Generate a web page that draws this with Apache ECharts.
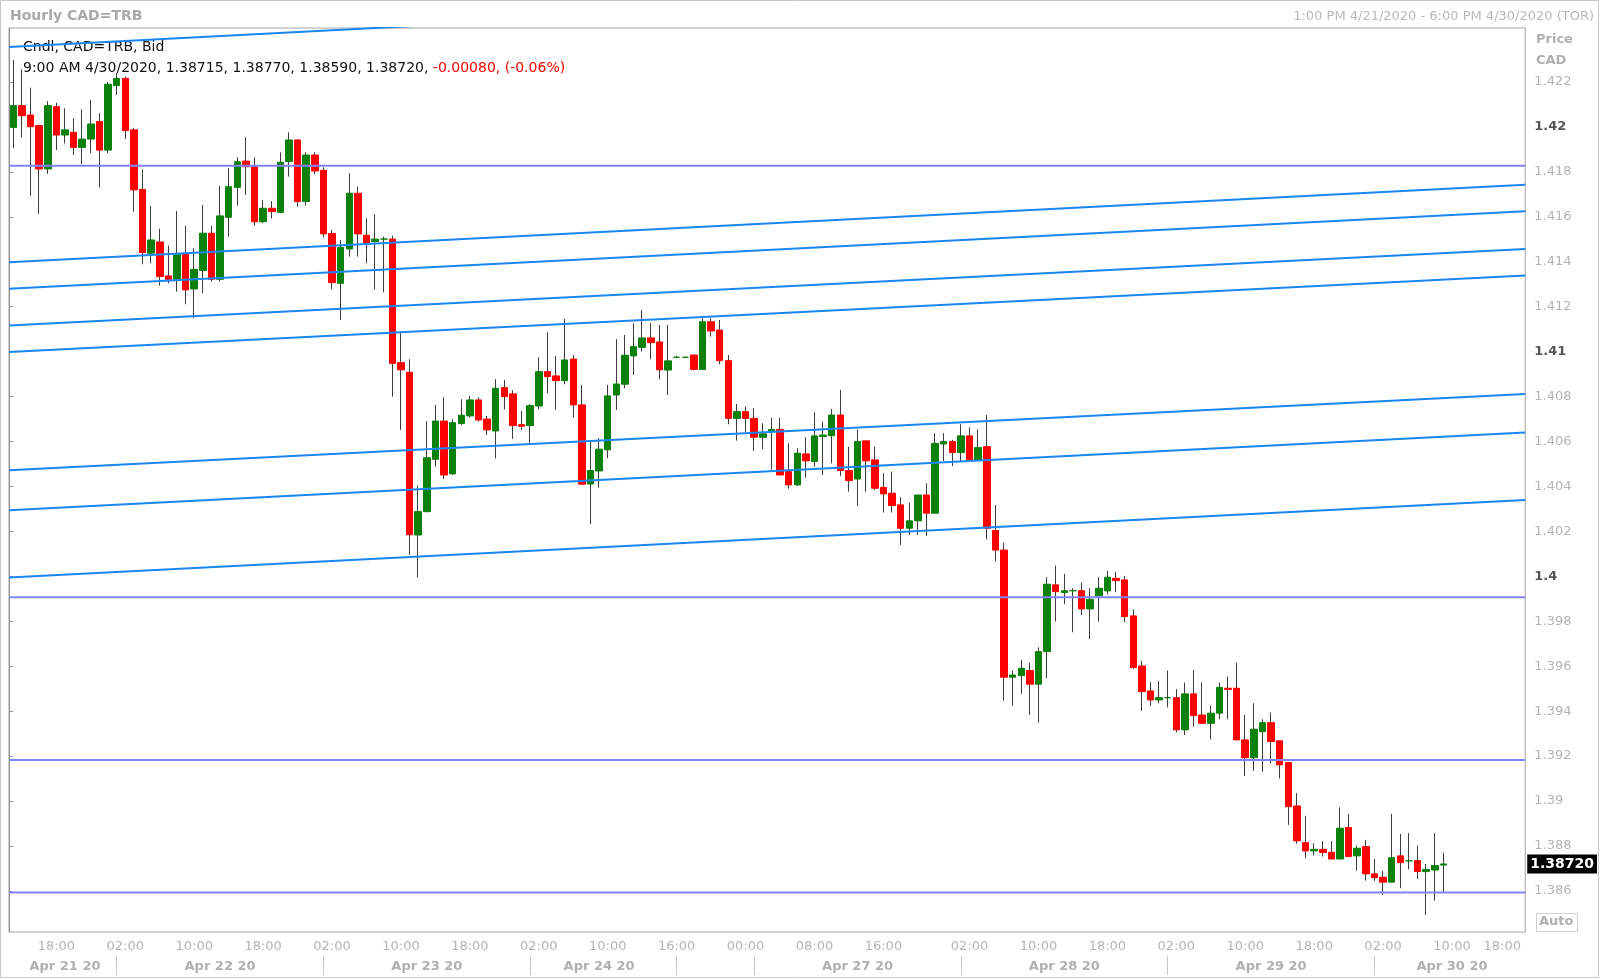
<!DOCTYPE html>
<html><head><meta charset="utf-8">
<script src="https://cdn.jsdelivr.net/npm/echarts@6/dist/echarts.min.js"></script>
<style>html,body{margin:0;padding:0;background:#fff}#c{width:1600px;height:979px}</style>
</head><body><div id="c"></div>
<script>
// ---- data (hourly candles, CAD=TRB, Bid) ----
const opens = [1.41998,1.42095,1.42053,1.42006,1.41813,1.42090,1.41964,1.41976,1.41909,1.41946,1.42024,1.41897,1.42184,1.42216,1.41987,1.41722,1.41438,1.41488,1.41337,1.41322,1.41433,1.41279,1.41361,1.41527,1.41322,1.41598,1.41731,1.41848,1.41823,1.41578,1.41638,1.41620,1.41846,1.41942,1.41668,1.41875,1.41807,1.41526,1.41304,1.41457,1.41705,1.41518,1.41490,1.41501,1.41501,1.40951,1.40908,1.40184,1.40288,1.40521,1.40691,1.40456,1.40680,1.40714,1.40785,1.40700,1.40647,1.40840,1.40812,1.40675,1.40671,1.40758,1.40911,1.40892,1.40871,1.40967,1.40763,1.40411,1.40469,1.40563,1.40807,1.40855,1.40981,1.41019,1.41061,1.41043,1.40918,1.40975,1.40975,1.40985,1.40921,1.41133,1.41096,1.40960,1.40703,1.40733,1.40703,1.40619,1.40644,1.40654,1.40466,1.40407,1.40545,1.40511,1.40622,1.40626,1.40718,1.40471,1.40433,1.40603,1.40518,1.40396,1.40370,1.40318,1.40214,1.40247,1.40362,1.40281,1.40589,1.40600,1.40551,1.40625,1.40518,1.40577,1.40204,1.40117,1.39551,1.39558,1.39581,1.39520,1.39665,1.39962,1.39928,1.39936,1.39936,1.39855,1.39913,1.39935,1.39991,1.39984,1.39824,1.39601,1.39490,1.39450,1.39460,1.39460,1.39317,1.39477,1.39383,1.39346,1.39391,1.39502,1.39502,1.39272,1.39193,1.39309,1.39349,1.39268,1.39171,1.38978,1.38815,1.38778,1.38785,1.38772,1.38742,1.38882,1.38756,1.38797,1.38676,1.38661,1.38639,1.38756,1.38734,1.38735,1.38686,1.38693,1.38715];
const highs = [1.42298,1.42256,1.42175,1.42010,1.42115,1.42108,1.42083,1.42038,1.42078,1.42120,1.42061,1.42200,1.42239,1.42225,1.41995,1.41811,1.41648,1.41547,1.41472,1.41626,1.41561,1.41460,1.41653,1.41561,1.41737,1.41816,1.41865,1.41954,1.41865,1.41675,1.41670,1.41887,1.41976,1.41945,1.41887,1.41887,1.41820,1.41541,1.41497,1.41794,1.41734,1.41593,1.41611,1.41512,1.41516,1.41082,1.40966,1.40404,1.40691,1.40763,1.40797,1.40700,1.40788,1.40803,1.40797,1.40714,1.40877,1.40874,1.40828,1.40736,1.40766,1.40975,1.41086,1.40981,1.41145,1.40985,1.40852,1.40600,1.40615,1.40852,1.41055,1.41074,1.41126,1.41185,1.41126,1.41119,1.41119,1.40982,1.40978,1.40985,1.41148,1.41148,1.41141,1.40985,1.40767,1.40755,1.40748,1.40681,1.40706,1.40706,1.40592,1.40570,1.40619,1.40730,1.40689,1.40745,1.40829,1.40577,1.40654,1.40603,1.40577,1.40459,1.40466,1.40352,1.40328,1.40362,1.40414,1.40637,1.40637,1.40607,1.40677,1.40663,1.40654,1.40718,1.40318,1.40150,1.39581,1.39628,1.39616,1.39684,1.39996,1.40048,1.40011,1.39947,1.39972,1.39947,1.39996,1.40024,1.40021,1.40002,1.39853,1.39624,1.39529,1.39535,1.39581,1.39498,1.39527,1.39583,1.39527,1.39425,1.39527,1.39554,1.39616,1.39383,1.39435,1.39364,1.39394,1.39268,1.39171,1.39035,1.38934,1.38812,1.38822,1.38822,1.38972,1.38943,1.38802,1.38827,1.38742,1.38689,1.38943,1.38854,1.38857,1.38802,1.38720,1.38857,1.38770];
const lows = [1.41905,1.41954,1.41694,1.41613,1.41791,1.41897,1.41927,1.41875,1.41834,1.41883,1.41731,1.41883,1.42142,1.41946,1.41623,1.41389,1.41393,1.41294,1.41304,1.41267,1.41211,1.41149,1.41260,1.41312,1.41312,1.41512,1.41650,1.41697,1.41561,1.41571,1.41593,1.41616,1.41779,1.41645,1.41650,1.41789,1.41507,1.41277,1.41141,1.41423,1.41423,1.41393,1.41277,1.41264,1.40800,1.40652,1.40096,1.39995,1.40285,1.40488,1.40433,1.40451,1.40674,1.40706,1.40689,1.40629,1.40525,1.40743,1.40612,1.40652,1.40592,1.40744,1.40815,1.40741,1.40855,1.40706,1.40410,1.40232,1.40395,1.40526,1.40741,1.40837,1.40896,1.41000,1.40966,1.40877,1.40807,1.40975,1.40972,1.40916,1.40918,1.41067,1.40944,1.40677,1.40604,1.40640,1.40558,1.40566,1.40474,1.40451,1.40390,1.40402,1.40439,1.40488,1.40451,1.40503,1.40447,1.40377,1.40313,1.40377,1.40384,1.40284,1.40284,1.40140,1.40184,1.40184,1.40180,1.40281,1.40513,1.40491,1.40513,1.40513,1.40518,1.40165,1.40066,1.39447,1.39424,1.39477,1.39383,1.39349,1.39547,1.39799,1.39876,1.39751,1.39828,1.39721,1.39799,1.39920,1.39929,1.39796,1.39588,1.39401,1.39423,1.39435,1.39417,1.39306,1.39294,1.39331,1.39343,1.39275,1.39364,1.39364,1.39272,1.39112,1.39134,1.39131,1.39168,1.39101,1.38894,1.38810,1.38745,1.38757,1.38753,1.38742,1.38742,1.38753,1.38690,1.38646,1.38645,1.38582,1.38639,1.38612,1.38696,1.38653,1.38493,1.38557,1.38590];
const closes = [1.42095,1.42050,1.42001,1.41813,1.42095,1.41964,1.41987,1.41909,1.41946,1.42013,1.41897,1.42190,1.42216,1.41984,1.41720,1.41441,1.41497,1.41334,1.41322,1.41433,1.41275,1.41366,1.41527,1.41322,1.41604,1.41734,1.41845,1.41823,1.41578,1.41638,1.41623,1.41843,1.41942,1.41668,1.41875,1.41804,1.41524,1.41307,1.41464,1.41705,1.41524,1.41485,1.41501,1.41501,1.40948,1.40919,1.40185,1.40288,1.40528,1.40691,1.40451,1.40684,1.40717,1.40785,1.40696,1.40652,1.40837,1.40800,1.40671,1.40668,1.40760,1.40911,1.40889,1.40871,1.40963,1.40763,1.40410,1.40471,1.40566,1.40803,1.40856,1.40984,1.41022,1.41061,1.41040,1.40919,1.40959,1.40975,1.40975,1.40921,1.41133,1.41092,1.40960,1.40703,1.40733,1.40703,1.40619,1.40634,1.40654,1.40451,1.40407,1.40548,1.40514,1.40625,1.40629,1.40718,1.40471,1.40426,1.40600,1.40514,1.40392,1.40367,1.40315,1.40214,1.40247,1.40362,1.40281,1.40592,1.40600,1.40551,1.40625,1.40518,1.40573,1.40214,1.40117,1.39551,1.39561,1.39591,1.39520,1.39665,1.39965,1.39932,1.39936,1.39936,1.39855,1.39898,1.39947,1.39996,1.39981,1.39821,1.39594,1.39487,1.39450,1.39460,1.39460,1.39317,1.39477,1.39380,1.39346,1.39391,1.39506,1.39497,1.39272,1.39193,1.39320,1.39349,1.39265,1.39161,1.38975,1.38823,1.38778,1.38785,1.38771,1.38742,1.38879,1.38753,1.38790,1.38676,1.38659,1.38639,1.38748,1.38726,1.38734,1.38686,1.38696,1.38713,1.38720];

// trading sessions (hourly slots); the axis continues to 18:00 Apr 30
const sessions = [['2020-04-21T13:00Z', 76], ['2020-04-26T15:00Z', 100]];

// x tick labels (category index -> text)
const xTickIndex  = [5,13,21,29,37,45,53,61,69,77,85,93,101,111,119,127,135,143,151,159,167,175];
const xTickLabels = ['18:00','02:00','10:00','18:00','02:00','10:00','18:00','02:00','10:00','16:00','00:00','08:00','16:00','02:00','10:00','18:00','02:00','10:00','18:00','02:00','10:00','18:00'];
const dateIndex  = [6,24,48,68,98,122,146,167];
const dateLabels = ['Apr 21 20','Apr 22 20','Apr 23 20','Apr 24 20','Apr 27 20','Apr 28 20','Apr 29 20','Apr 30 20'];
const dateSepIndex = [12,36,60,77,86,110,134,158];

// y tick labels
const yTickValues = [1.386,1.388,1.39,1.392,1.394,1.396,1.398,1.4,1.402,1.404,1.406,1.408,1.41,1.412,1.414,1.416,1.418,1.42,1.422];
const yTickLabels = ['1.386','1.388','1.39','1.392','1.394','1.396','1.398','1.4','1.402','1.404','1.406','1.408','1.41','1.412','1.414','1.416','1.418','1.42','1.422'];
const yBoldLabels = ['1.4','1.41','1.42'];

// drawn lines: sloped channel lines (price at left edge, price at right edge)
const trendLeft  = [1.42356,1.41398,1.41280,1.41116,1.40998,1.40472,1.40294,1.39995];
const trendRight = [1.42705,1.41743,1.41625,1.41457,1.41339,1.40812,1.40640,1.40340];
// horizontal levels
const levels = [1.41827,1.39907,1.39183,1.38593];

const yMin = 1.384172, yMax = 1.424403;

// ---- build ----
const categories = [];
sessions.forEach(([start, n]) => {
  const t0 = Date.parse(start);
  for (let k = 0; k < n; k++) {
    const d = new Date(t0 + k * 3600000);
    const p = v => String(v).padStart(2, '0');
    categories.push(`${p(d.getUTCMonth()+1)}/${p(d.getUTCDate())} ${p(d.getUTCHours())}:00`);
  }
});
const tickMap = {}; xTickIndex.forEach((ix, k) => tickMap[ix] = xTickLabels[k]);
const dateMap = {}; dateIndex.forEach((ix, k) => dateMap[ix] = dateLabels[k]);
const sepSet = new Set(dateSepIndex);

const wickData = opens.map((o, i) => [lows[i], lows[i], lows[i], highs[i]]);
const bodyData = opens.map((o, i) => [o, closes[i], Math.min(o, closes[i]), Math.max(o, closes[i])]);

const FONT = 'DejaVu Sans';
const GREEN = '#0b800b', RED = '#ff0000';

const lineSeries = [];
trendLeft.forEach((pl, k) => lineSeries.push({
  type: 'line', xAxisIndex: 2, yAxisIndex: 0, data: [[0, pl], [1, trendRight[k]]],
  symbol: 'none', silent: true, z: 5, clip: true,
  lineStyle: { color: '#1a86f2', width: 2 }
}));
levels.forEach(p => lineSeries.push({
  type: 'line', xAxisIndex: 2, yAxisIndex: 0, data: [[0, p], [1, p]],
  symbol: 'none', silent: true, z: 5, clip: true,
  lineStyle: { color: '#8282ff', width: 2 }
}));

const chart = echarts.init(document.getElementById('c'), null, { renderer: 'canvas' });
const lastClose = closes[closes.length - 1];

chart.setOption({
  animation: false,
  backgroundColor: '#fff',
  textStyle: { fontFamily: FONT },
  grid: { left: 9, top: 28, right: 71, bottom: 47, show: true, borderColor: '#a6a6a6', borderWidth: 1, backgroundColor: 'transparent' },
  xAxis: [
    { type: 'category', data: categories, boundaryGap: true, position: 'bottom',
      axisLine: { show: false }, axisTick: { show: false }, splitLine: { show: false },
      axisLabel: { interval: i => tickMap[i] !== undefined, formatter: (v, i) => tickMap[i] || '',
        color: '#b4b4b4', fontSize: 13, fontFamily: FONT, margin: 8, alignMaxLabel: 'right' } },
    { type: 'category', data: categories, boundaryGap: true, position: 'bottom', offset: 24,
      axisLine: { show: false },
      axisTick: { show: true, alignWithLabel: true, interval: i => sepSet.has(i), length: 19, lineStyle: { color: '#c8c8c8' } },
      axisLabel: { interval: i => dateMap[i] !== undefined, formatter: (v, i) => dateMap[i] || '',
        color: '#b0b0b0', fontSize: 13, fontWeight: 'bold', fontFamily: FONT, margin: 4 } },
    { type: 'value', min: 0, max: 1, show: false }
  ],
  yAxis: [
    { type: 'value', position: 'right', min: yMin, max: yMax, scale: true,
      axisLine: { show: true, lineStyle: { color: '#8c8c8c' } },
      axisTick: { show: true, length: 4, customValues: yTickValues, lineStyle: { color: '#999' } },
      splitLine: { show: false },
      axisLabel: { customValues: yTickValues, margin: 9,
        formatter: v => { const k = yTickValues.findIndex(t => Math.abs(t - v) < 1e-7); const s = yTickLabels[k];
          return yBoldLabels.includes(s) ? '{b|' + s + '}' : '{n|' + s + '}'; },
        rich: { b: { color: '#555', fontWeight: 'bold', fontSize: 13, fontFamily: FONT },
                n: { color: '#b4b4b4', fontSize: 13, fontFamily: FONT } } } },
    { type: 'value', position: 'right', min: yMin, max: yMax,
      axisLine: { show: false }, axisTick: { show: false }, splitLine: { show: false },
      axisLabel: { customValues: [lastClose], margin: 2, formatter: v => v.toFixed(5),
        color: '#fff', backgroundColor: '#000', fontWeight: 'bold', fontSize: 14, fontFamily: FONT,
        padding: [3, 3, 2, 3] } }
  ],
  series: [
    { type: 'candlestick', name: 'wick', xAxisIndex: 0, yAxisIndex: 0, data: wickData, barWidth: 1, silent: true, z: 2,
      itemStyle: { color: '#3c3c3c', color0: '#3c3c3c', borderColor: '#3c3c3c', borderColor0: '#3c3c3c', borderWidth: 1 } },
    { type: 'candlestick', name: 'body', xAxisIndex: 0, yAxisIndex: 0, data: bodyData, barWidth: 7, silent: true, z: 3,
      itemStyle: { color: GREEN, color0: RED, borderColor: GREEN, borderColor0: RED, borderWidth: 1 } },
    ...lineSeries
  ],
  graphic: [
    { type: 'rect', shape: { x: 0.5, y: 0.5, width: 1598, height: 977 }, style: { fill: 'none', stroke: '#c8c8c8', lineWidth: 1 }, silent: true },
    { type: 'text', left: 10, top: 9, style: { text: 'Hourly CAD=TRB', fill: '#a9a9a9', font: 'bold 14px "DejaVu Sans"' } },
    { type: 'text', right: 6, top: 10, style: { text: '1:00 PM 4/21/2020 - 6:00 PM 4/30/2020 (TOR)', fill: '#b8b8b8', font: '13px "DejaVu Sans"' } },
    { type: 'text', left: 23, top: 40, style: { text: 'Cndl, CAD=TRB, Bid', fill: '#111', font: '14px "DejaVu Sans"' } },
    { type: 'text', left: 23, top: 61, style: { text: '{k|9:00 AM 4/30/2020, 1.38715, 1.38770, 1.38590, 1.38720, }{r|-0.00080, (-0.06%)}',
        rich: { k: { fill: '#111', font: '14px "DejaVu Sans"' }, r: { fill: '#ff0000', font: '14px "DejaVu Sans"' } } } },
    { type: 'text', left: 1536, top: 33, style: { text: 'Price', fill: '#b0b0b0', font: 'bold 13px "DejaVu Sans"' } },
    { type: 'text', left: 1536, top: 54, style: { text: 'CAD', fill: '#b0b0b0', font: 'bold 13px "DejaVu Sans"' } },
    { type: 'rect', shape: { x: 1536.5, y: 913.5, width: 41, height: 18 }, style: { fill: '#fff', stroke: '#d0d0d0' } },
    { type: 'text', left: 1539, top: 915, style: { text: 'Auto', fill: '#b0b0b0', font: 'bold 13px "DejaVu Sans"' } }
  ]
});
</script></body></html>
